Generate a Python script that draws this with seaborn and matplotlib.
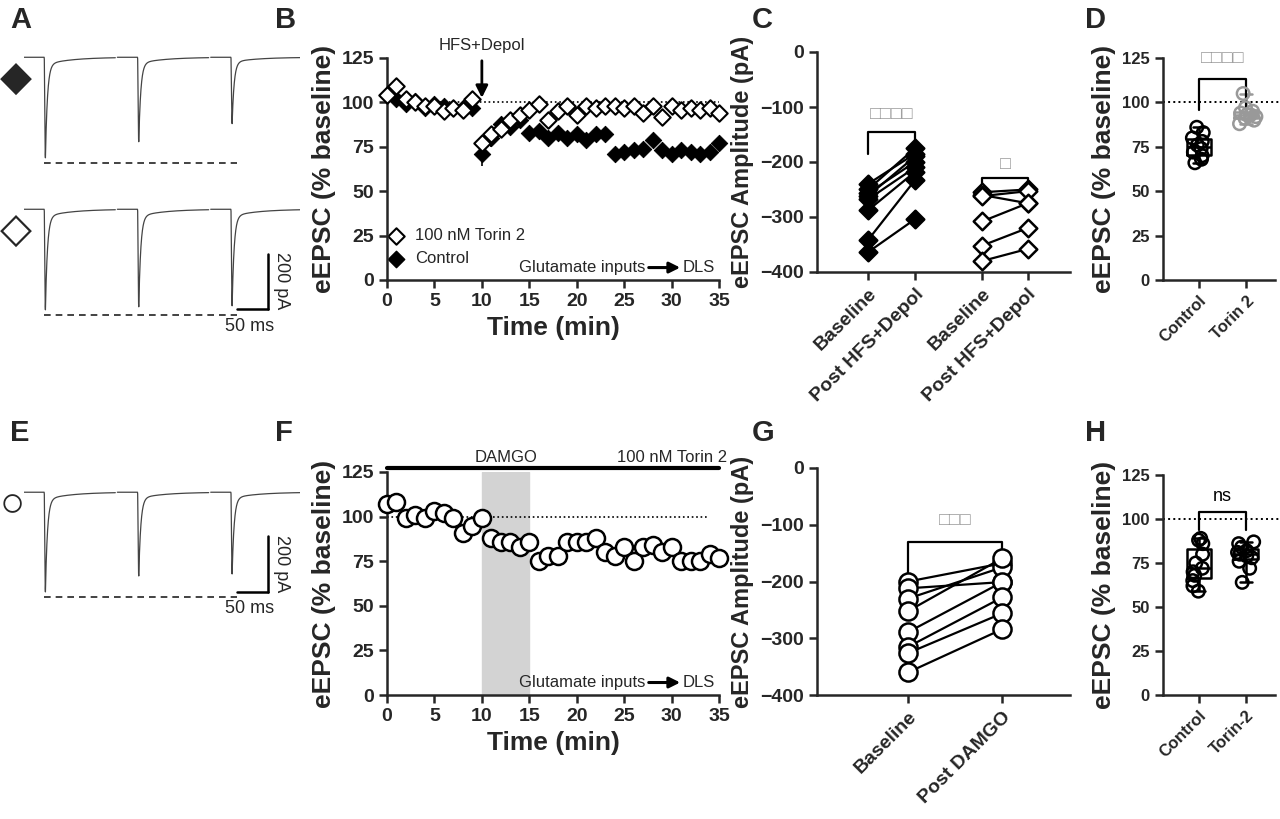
import numpy as np
import pandas as pd
import matplotlib
matplotlib.use('Agg')
import matplotlib.pyplot as plt
import seaborn as sns

sns.set_style('ticks')
plt.rcParams['font.family'] = ['Arial', 'Liberation Sans', 'DejaVu Sans']

W, H = 1280, 819

# ---- data ----
time_min = list(range(36))
torin_b = [104, 109, 102, 100, 98, 98, 95, 97, 96, 102, 77, 82, 85, 90, 93, 96, 99, 90,
           95, 98, 93, 98, 97, 98, 98, 97, 98, 94, 98, 92, 98, 96, 97, 96, 97, 94]
control_b = [104, 102, 99, 101, 97, 99, 98, 97, 97, 97, 71, 80, 88, 86, 90, 83, 84, 80,
             83, 80, 82, 79, 82, 82, 71, 72, 73, 74, 79, 73, 71, 73, 72, 71, 72, 77]
control_b_err = [0, 0, 0, 0, 0, 0, 0, 0, 0, 0, 7, 5, 4, 0, 0, 0, 0, 0,
                 0, 0, 0, 0, 0, 0, 0, 0, 0, 0, 0, 0, 0, 0, 0, 0, 0, 3]
damgo_f = [107, 108, 99, 101, 99, 103, 102, 99, 91, 95, 99, 88, 86, 86, 83, 86, 75, 78,
           78, 86, 86, 86, 88, 80, 78, 83, 75, 83, 84, 80, 83, 75, 75, 75, 79, 77]

c_ctrl_base = [-240, -250, -257, -262, -268, -288, -342, -364]
c_ctrl_post = [-185, -175, -200, -190, -210, -218, -233, -304]
c_tor_base = [-255, -260, -262, -308, -352, -380]
c_tor_post = [-250, -275, -253, -275, -320, -358]
c_labels = ['Baseline', 'Post HFS+Depol', 'Baseline', 'Post HFS+Depol']

g_base = [-200, -212, -230, -252, -289, -315, -326, -360]
g_post = [-168, -201, -175, -159, -201, -228, -256, -284]
g_labels = ['Baseline', 'Post DAMGO']

d_control = [66, 68, 70, 72, 74, 76, 78, 80, 83, 86]
d_torin = [88, 90, 91, 92, 93, 93, 94, 95, 97, 105]
h_control = [59, 62, 65, 68, 70, 72, 75, 80, 86, 88, 89]
h_torin = [64, 72, 76, 78, 79, 80, 81, 82, 84, 86, 87]

trace_a_ctrl = [1.0, 0.84, 0.66]
trace_a_torin = [1.0, 0.97, 0.96]
trace_e = [1.0, 0.84, 0.82]

fig = plt.figure(figsize=(12.8, 8.19), dpi=100)


def ax_px(l, t, r, b):
    return fig.add_axes([l / W, 1 - b / H, (r - l) / W, (b - t) / H])


def letter(x, y, s):
    fig.text(x / W, 1 - y / H, s, fontsize=21, fontweight='bold', va='center', ha='left')


def style(ax, size=14):
    sns.despine(ax=ax)
    for sp in ['left', 'bottom']:
        ax.spines[sp].set_linewidth(1.8)
    ax.tick_params(width=1.8, length=6, labelsize=size)
    for t in ax.get_xticklabels() + ax.get_yticklabels():
        t.set_fontweight('bold')


# ---- traces ----
def trace(ax, peaks, scalebar=False):
    seg = 92
    for i, p in enumerate(peaks):
        t0 = i * seg
        t = np.linspace(0, 90, 500)
        y = np.where(t < 20, 0, -p * 0.93 * np.exp(-(t - 21) / 2.0) - 0.07 * p * np.exp(-(t - 21) / 25))
        y = np.where((t >= 20) & (t < 21), -p * (t - 20), y)
        ax.plot(t0 + t, y, color='#444444', lw=0.9)
    ax.plot([20, 210], [-1, -1], ls=(0, (4, 3)), color='#222222', lw=1.2)
    ax.set_xlim(0, 272)
    ax.set_ylim(-1.05, 0.05)
    ax.axis('off')
    if scalebar:
        ax.plot([240, 240], [-0.42, -0.95], color='k', lw=1.8, clip_on=False)
        ax.plot([210, 240], [-0.95, -0.95], color='k', lw=1.8, clip_on=False)
        ax.text(245, -0.68, '200 pA', rotation=-90, va='center', ha='left', fontsize=13)
        ax.text(222, -1.03, '50 ms', va='top', ha='center', fontsize=13)


ta1 = ax_px(24, 52, 300, 168)
trace(ta1, trace_a_ctrl)
ta2 = ax_px(24, 204, 300, 320)
trace(ta2, trace_a_torin, scalebar=True)
te = ax_px(24, 487, 300, 602)
trace(te, trace_e, scalebar=True)
fig.text(0 / W, 1 - 80 / H, '\u25c6', fontsize=30, va='center')
fig.text(0 / W, 1 - 232 / H, '\u25c7', fontsize=30, va='center')
fig.text(0 / W, 1 - 505 / H, '\u25cb', fontsize=30, va='center')


# ---- time courses ----
def glut(ax):
    ax.text(27.2, 7, 'Glutamate inputs', fontsize=12, va='center', ha='right')
    ax.annotate('', xy=(31.2, 7), xytext=(27.3, 7),
                arrowprops=dict(arrowstyle='-|>', color='k', lw=2.2, mutation_scale=16))
    ax.text(31.2, 7, 'DLS', fontsize=12, va='center', ha='left')


def unclip(ax):
    for c in ax.collections:
        c.set_clip_on(False)


axB = ax_px(387, 58, 719, 280)
dfB = pd.DataFrame({'t': time_min * 2, 'v': torin_b + control_b,
                    'g': ['100 nM Torin 2'] * 36 + ['Control'] * 36})
axB.errorbar(time_min, control_b, yerr=control_b_err, fmt='none', ecolor='k', lw=1.2)
sns.scatterplot(data=dfB[dfB.g == 'Control'], x='t', y='v', marker='D', s=70, color='k',
                edgecolor='k', ax=axB, zorder=3, legend=False)
sns.scatterplot(data=dfB[dfB.g != 'Control'], x='t', y='v', marker='D', s=70, facecolor='white',
                edgecolor='k', linewidth=1.5, ax=axB, zorder=4, legend=False)
unclip(axB)
axB.axhline(100, ls=':', color='k', lw=1.2)
axB.set_xlim(0, 35)
axB.set_ylim(0, 125)
axB.set_xticks(range(0, 36, 5))
axB.set_yticks(range(0, 126, 25))
axB.set_xlabel('Time (min)', fontsize=19, fontweight='bold')
axB.set_ylabel('eEPSC (% baseline)', fontsize=19, fontweight='bold')
axB.scatter([1], [25], marker='D', s=70, facecolor='white', edgecolor='k', lw=1.5, clip_on=False)
axB.text(3, 25, '100 nM Torin 2', fontsize=12, va='center')
axB.scatter([1], [12], marker='D', s=70, color='k', clip_on=False)
axB.text(3, 12, 'Control', fontsize=12, va='center')
glut(axB)
axB.annotate('', xy=(10, 101), xytext=(10, 125),
             arrowprops=dict(arrowstyle='-|>', color='k', lw=2, mutation_scale=18),
             annotation_clip=False)
axB.text(10, 128, 'HFS+Depol', fontsize=12, ha='center', va='bottom')
style(axB)

axF = ax_px(387, 472, 719, 695)
axF.axvspan(10, 15, color='#d3d3d3', zorder=0)
sns.scatterplot(x=time_min, y=damgo_f, marker='o', s=150, facecolor='white',
                edgecolor='k', linewidth=1.8, ax=axF, zorder=3)
unclip(axF)
axF.axhline(100, xmax=0.97, ls=':', color='k', lw=1.2)
axF.plot([0, 35], [127, 127], color='k', lw=3, clip_on=False)
axF.text(12.5, 129, 'DAMGO', fontsize=12, ha='center', va='bottom')
axF.text(30, 129, '100 nM Torin 2', fontsize=12, ha='center', va='bottom')
axF.set_xlim(0, 35)
axF.set_ylim(0, 125)
axF.set_xticks(range(0, 36, 5))
axF.set_yticks(range(0, 126, 25))
axF.set_xlabel('Time (min)', fontsize=19, fontweight='bold')
axF.set_ylabel('eEPSC (% baseline)', fontsize=19, fontweight='bold')
glut(axF)
style(axF)


# ---- paired amplitudes ----
def paired(ax, base, post, x0, x1, filled, marker, s):
    n = len(base)
    df = pd.DataFrame({'x': [x0] * n + [x1] * n, 'amp': base + post,
                       'cell': list(range(n)) * 2})
    sns.lineplot(data=df, x='x', y='amp', units='cell', estimator=None, color='k',
                 lw=1.6, ax=ax, legend=False)
    sns.scatterplot(data=df, x='x', y='amp', marker=marker, s=s,
                    facecolor='k' if filled else 'white', edgecolor='k', linewidth=1.8,
                    ax=ax, zorder=3, legend=False)


def bracket(ax, x0, x1, y, drop, text, color='#999999', fs=13):
    ax.plot([x0, x0, x1, x1], [y - drop, y, y, y - drop], color='k', lw=1.6, clip_on=False)
    ax.text((x0 + x1) / 2, y + drop * 0.4, text, ha='center', va='bottom', color=color,
            fontsize=fs, clip_on=False)


axC = ax_px(817, 52, 1070, 272)
cpos = [0, 1, 2.43, 3.4]
paired(axC, c_ctrl_base, c_ctrl_post, cpos[0], cpos[1], True, 'D', 80)
paired(axC, c_tor_base, c_tor_post, cpos[2], cpos[3], False, 'D', 80)
axC.set_xlim(-1.085, 4.3)
axC.set_ylim(-400, 0)
axC.set_yticks(range(-400, 1, 100))
axC.set_xticks(cpos)
axC.set_xticklabels(c_labels, rotation=45, ha='right', rotation_mode='anchor')
axC.set_xlabel('')
axC.set_ylabel('eEPSC Amplitude (pA)', fontsize=17, fontweight='bold')
bracket(axC, cpos[0], cpos[1], -145, 40, '\u25a1\u25a1\u25a1\u25a1')
bracket(axC, cpos[2], cpos[3], -230, 25, '\u25a1')
style(axC)

axG = ax_px(817, 468, 1070, 695)
gpos = [0, 1]
paired(axG, g_base, g_post, 0, 1, False, 'o', 170)
axG.set_xlim(-0.97, 1.72)
axG.set_ylim(-400, 0)
axG.set_yticks(range(-400, 1, 100))
axG.set_xticks(gpos)
axG.set_xticklabels(g_labels, rotation=45, ha='right', rotation_mode='anchor')
axG.set_xlabel('')
axG.set_ylabel('eEPSC Amplitude (pA)', fontsize=17, fontweight='bold')
bracket(axG, 0, 1, -130, 55, '\u25a1\u25a1\u25a1')
style(axG)


# ---- box plots ----
def boxes(ax, a, b, labels, colors):
    df = pd.DataFrame({'g': [labels[0]] * len(a) + [labels[1]] * len(b), 'v': a + b})
    sns.boxplot(data=df, x='g', y='v', hue='g', palette=colors, whis=(0, 100), width=0.5,
                fill=False, linewidth=1.8, ax=ax, legend=False)
    n0 = len(ax.collections)
    sns.stripplot(data=df, x='g', y='v', hue='g', palette=colors, jitter=0.2, size=9,
                  marker='o', linewidth=1.8, ax=ax, legend=False, zorder=3)
    for c, col in zip(ax.collections[n0:], colors):
        c.set_facecolor('none')
        c.set_edgecolor(col)
        c.set_linewidth(1.8)
    ax.set_xlim(-0.75, 1.6)
    ax.set_ylim(0, 125)
    ax.set_yticks(range(0, 126, 25))
    ax.axhline(100, ls=':', color='k', lw=1.4, clip_on=False, xmax=1.3)
    ax.set_xlabel('')
    ax.set_ylabel('eEPSC (% baseline)', fontsize=19, fontweight='bold')
    plt.setp(ax.get_xticklabels(), rotation=45, ha='right', rotation_mode='anchor')


axD = ax_px(1163, 58, 1275, 280)
boxes(axD, d_control, d_torin, ['Control', 'Torin 2'], ['k', '#999999'])
bracket(axD, 0, 1, 113, 17, '\u25a1\u25a1\u25a1\u25a1')
style(axD, 12)

axH = ax_px(1163, 475, 1275, 695)
boxes(axH, h_control, h_torin, ['Control', 'Torin-2'], ['k', 'k'])
bracket(axH, 0, 1, 104, 10, 'ns', color='k', fs=13)
style(axH, 12)

for x, y, s in [(10, 20, 'A'), (275, 20, 'B'), (752, 20, 'C'), (1085, 20, 'D'),
                (10, 433, 'E'), (275, 433, 'F'), (752, 433, 'G'), (1085, 433, 'H')]:
    letter(x, y, s)

fig.savefig('out.png', dpi=100)
